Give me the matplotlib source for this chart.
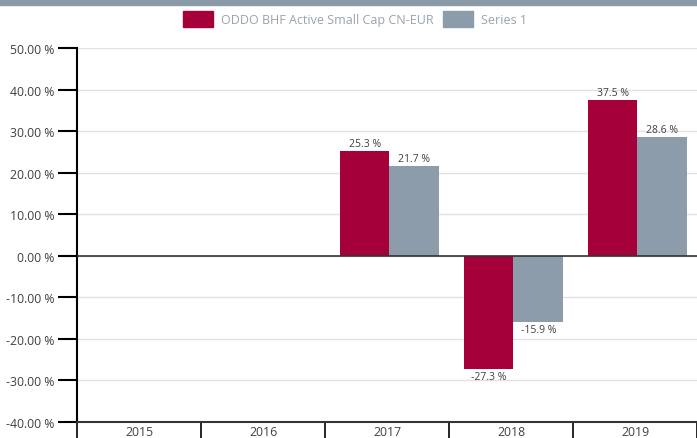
import numpy as np
import matplotlib.pyplot as plt
from matplotlib.patches import Patch

years = ['2015', '2016', '2017', '2018', '2019']
fund = [None, None, 25.3, -27.3, 37.5]
series1 = [None, None, 21.7, -15.9, 28.6]
yticks = [50, 40, 30, 20, 10, 0, -10, -20, -30, -40]

red = '#a5003a'
grey = '#8c9caa'
txt = '#404040'

plt.rcParams['font.family'] = ['Open Sans', 'DejaVu Sans']

fig = plt.figure(figsize=(6.97, 4.39), dpi=100)
# grey band at top
fig.patches.append(plt.Rectangle((0, 1 - 6 / 439), 1, 6 / 439, transform=fig.transFigure,
                                 color='#8a9aa7', zorder=0))

ax = fig.add_axes([77 / 697, 16 / 439, 620 / 697, 374 / 439])
w = 0.4
shift = 0.02  # bars sit a touch right of the category centre
for vals, off, col in [(fund, -w / 2, red), (series1, w / 2, grey)]:
    idx = [i for i, v in enumerate(vals) if v is not None]
    h = [vals[i] for i in idx]
    bars = ax.bar(np.array(idx) + off + shift, h, width=w, color=col, zorder=3)
    ax.bar_label(bars, labels=['%.1f %%' % v for v in h], padding=1.5,
                 fontsize=7.5, color=txt)

ax.set_ylim(-40, 50)
ax.set_xlim(-0.5, 4.42)
ax.set_yticks(yticks)
ax.set_yticklabels(['%.2f %%' % v for v in yticks], fontsize=8.8, color=txt)
ax.tick_params(axis='y', length=13.5, width=1.5, color='black', pad=3)
ax.set_xticks(range(5))
ax.set_xticklabels(years, fontsize=8.8, color=txt)
ax.set_xticks(np.arange(-0.5, 5, 1), minor=True)
ax.tick_params(axis='x', which='major', length=0, pad=2)
ax.tick_params(axis='x', which='minor', length=12, width=1.2, color='black')
ax.grid(axis='y', color='#e2e2e2', linewidth=1, zorder=0)
ax.axhline(0, color='#333333', linewidth=1.2, zorder=4)
for s in ['top', 'right']:
    ax.spines[s].set_visible(False)
ax.spines['left'].set_linewidth(1.5)
ax.spines['bottom'].set_linewidth(1.5)
ax.spines['bottom'].set_color('#333333')

handles = [Patch(facecolor=red, edgecolor=red), Patch(facecolor=grey, edgecolor=grey)]
leg = fig.legend(handles, ['ODDO BHF Active Small Cap CN-EUR', 'Series 1'],
                 loc='center', bbox_to_anchor=(355 / 697, 1 - 20 / 439), ncol=2,
                 frameon=False, fontsize=9, handlelength=2.4, handleheight=1.5,
                 handletextpad=0.7, columnspacing=0.7)
for t in leg.get_texts():
    t.set_color('#9aa3ab')

fig.savefig('out.png', dpi=100)
